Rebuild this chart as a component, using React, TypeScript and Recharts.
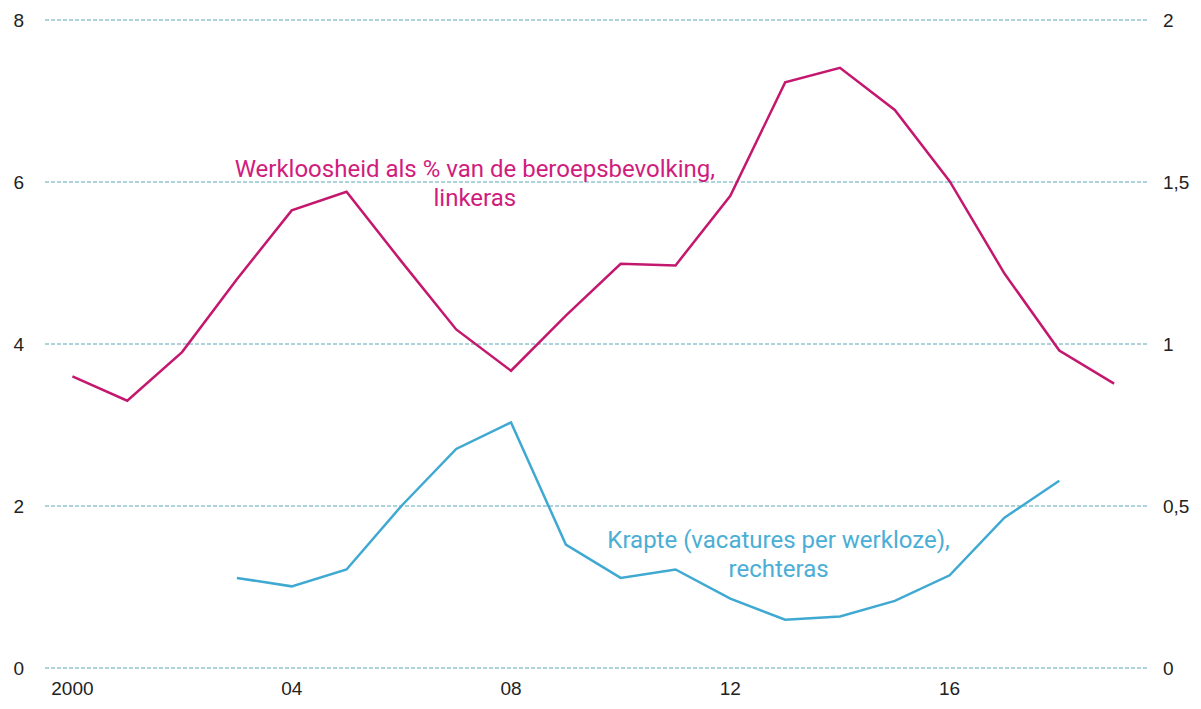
import { LineChart, Line, XAxis, YAxis, CartesianGrid, ReferenceDot } from 'recharts';

// Werkloosheid (linkeras) en krapte (rechteras), 2000-2019
const years = [2000, 2001, 2002, 2003, 2004, 2005, 2006, 2007, 2008, 2009, 2010, 2011, 2012, 2013, 2014, 2015, 2016, 2017, 2018, 2019];
const werkloosheid = [3.6, 3.3, 3.9, 4.8, 5.65, 5.88, 5.02, 4.18, 3.67, 4.35, 4.99, 4.97, 5.83, 7.23, 7.41, 6.89, 6.01, 4.87, 3.92, 3.51];
const krapte: (number | null)[] = [null, null, null, 0.278, 0.252, 0.304, 0.5, 0.676, 0.758, 0.381, 0.278, 0.304, 0.214, 0.149, 0.159, 0.207, 0.286, 0.464, 0.578, null];

const xTicks = [2000, 2004, 2008, 2012, 2016];
const leftTicks = [0, 2, 4, 6, 8];
const rightTicks = [0, 0.5, 1, 1.5, 2];

const MAGENTA = '#c4176e';
const MAGENTA_TEXT = '#d01c7e';
const BLUE = '#3fa9d2';
const BLUE_TEXT = '#4aaed6';
const GRID = '#5aa6b8';
const FONT = '"Liberation Sans", Arial, sans-serif';
const LABEL_FONT = 'Roboto, "Liberation Sans", sans-serif';

const data = years.map((year, i) => ({
  year,
  werkloosheid: werkloosheid[i],
  krapte: krapte[i],
}));

const formatYear = (y: number) => (y === 2000 ? '2000' : String(y % 100).padStart(2, '0'));
const formatRight = (v: number) => String(v).replace('.', ',');

function twoLineLabel(lines: string[], color: string) {
  return (props: any) => {
    const { viewBox } = props;
    const cx = viewBox.x + viewBox.width / 2;
    const cy = viewBox.y + viewBox.height / 2;
    return (
      <text x={cx} y={cy} fill={color} fontSize={24} fontFamily={LABEL_FONT} textAnchor="middle">
        {lines.map((l, i) => (
          <tspan key={i} x={cx} dy={i === 0 ? 0 : 29}>
            {l}
          </tspan>
        ))}
      </text>
    );
  };
}

export default function App() {
  return (
    <div style={{ position: 'absolute', left: 0, top: 0, background: '#fff' }}>
      <LineChart width={1201} height={709} data={data} margin={{ top: 20, right: 0, bottom: 11, left: 0 }}>
        <CartesianGrid yAxisId="left" vertical={false} stroke={GRID} strokeDasharray="4 2" />
        <XAxis
          dataKey="year"
          type="number"
          domain={[1999.5, 2019.6]}
          ticks={xTicks}
          tickFormatter={formatYear}
          axisLine={false}
          tickLine={false}
          tickSize={0}
          tickMargin={14}
          height={30}
          tick={{ fill: '#222', fontSize: 19, fontFamily: FONT }}
        />
        <YAxis
          yAxisId="left"
          domain={[0, 8]}
          ticks={leftTicks}
          axisLine={false}
          tickLine={false}
          tickSize={0}
          tickMargin={21}
          width={45}
          tick={{ fill: '#222', fontSize: 19, fontFamily: FONT }}
        />
        <YAxis
          yAxisId="right"
          orientation="right"
          domain={[0, 2]}
          ticks={rightTicks}
          tickFormatter={formatRight}
          axisLine={false}
          tickLine={false}
          tickSize={0}
          tickMargin={16}
          width={54}
          tick={{ fill: '#222', fontSize: 19, fontFamily: FONT, textAnchor: 'start' }}
        />
        <Line
          yAxisId="left"
          type="linear"
          dataKey="werkloosheid"
          stroke={MAGENTA}
          strokeWidth={2.5}
          dot={false}
          isAnimationActive={false}
        />
        <Line
          yAxisId="right"
          type="linear"
          dataKey="krapte"
          stroke={BLUE}
          strokeWidth={2.5}
          dot={false}
          isAnimationActive={false}
        />
        <ReferenceDot
          yAxisId="left"
          x={2007.34}
          y={6.06}
          r={0}
          fill="none"
          stroke="none"
          label={twoLineLabel(['Werkloosheid als % van de beroepsbevolking,', 'linkeras'], MAGENTA_TEXT)}
        />
        <ReferenceDot
          yAxisId="right"
          x={2012.88}
          y={0.37}
          r={0}
          fill="none"
          stroke="none"
          label={twoLineLabel(['Krapte (vacatures per werkloze),', 'rechteras'], BLUE_TEXT)}
        />
      </LineChart>
    </div>
  );
}
